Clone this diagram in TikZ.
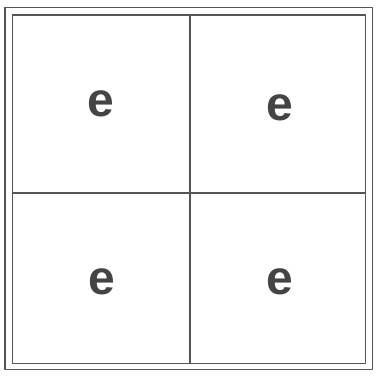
\documentclass[tikz,border=0pt]{standalone}
\usepackage{fontspec}
\setmainfont{Liberation Sans}
\definecolor{pencil}{RGB}{85,85,85}
\tikzset{cell/.style={font=\fontsize{48}{48}\selectfont\bfseries, text=pencil!80!black, inner sep=0pt}}

\begin{document}
\begin{tikzpicture}[line cap=round,line join=round,x=1pt,y=-1pt]
					\useasboundingbox (0,0) rectangle (378,377);
					\draw [line width=1.2pt, color=pencil] (5,7.5) rectangle (372.5,369.5);
					\draw [line width=1.2pt, color=pencil] (12.5,15) rectangle (365.5,363.5);
					\draw [line width=1.2pt, color=pencil] (190,15)-- (190,363.5);
					\draw [line width=1.2pt, color=pencil] (12.5,193)-- (365.5,193);
					\node[cell] (e11) at (101,104) {e};
					\node[cell] (e12) at (280,108) {e};
					\node[cell] (e21) at (101.5,281.5) {e};
					\node[cell] (e22) at (280,281.5) {e};
				\end{tikzpicture}
\end{document}
